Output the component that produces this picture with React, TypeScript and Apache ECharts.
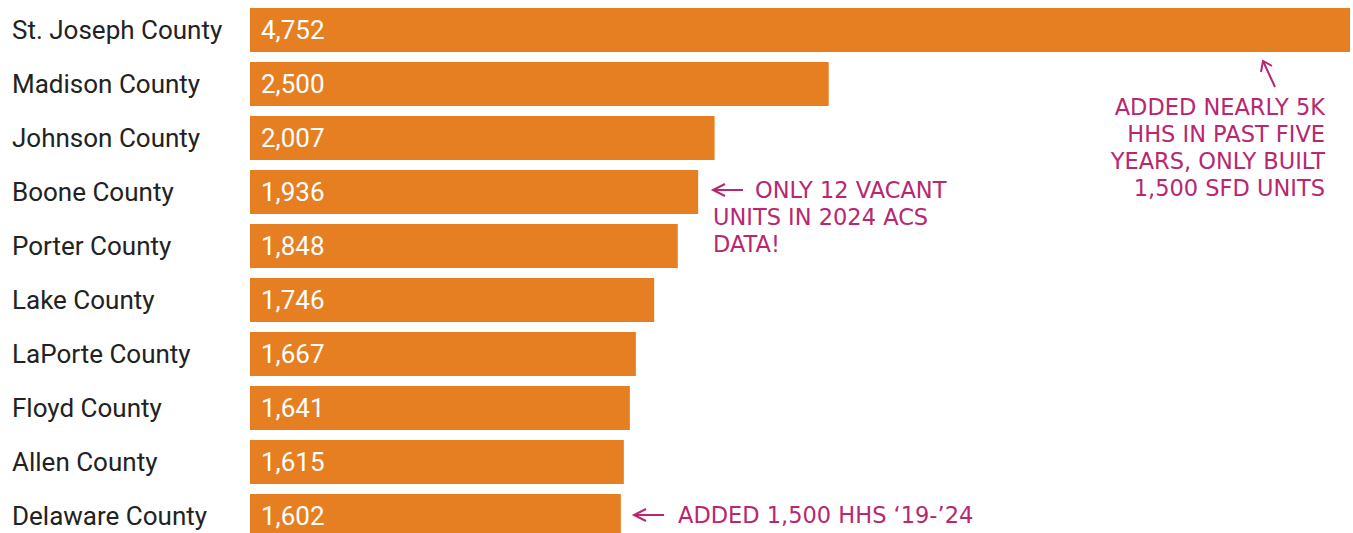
import React, { useEffect, useRef } from "react";
import * as echarts from "echarts";

const counties = [
  "St. Joseph County",
  "Madison County",
  "Johnson County",
  "Boone County",
  "Porter County",
  "Lake County",
  "LaPorte County",
  "Floyd County",
  "Allen County",
  "Delaware County",
];
const values = [4752, 2500, 2007, 1936, 1848, 1746, 1667, 1641, 1615, 1602];

const noteTop = ["ADDED NEARLY 5K", "HHS IN PAST FIVE", "YEARS, ONLY BUILT", "1,500 SFD UNITS"];
const noteMid = ["ONLY 12 VACANT", "UNITS IN 2024 ACS", "DATA!"];
const noteBottom = "ADDED 1,500 HHS ‘19-’24";

const ORANGE = "#E67E22";
const MAGENTA = "#B8276F";
const NOTE_FONT = "'DejaVu Sans', sans-serif";

export default function App() {
  const ref = useRef<HTMLDivElement>(null);
  useEffect(() => {
    document.body.style.overflow = "hidden";
    const chart = echarts.init(ref.current!, null, { renderer: "svg" });
    const noteStyle = (text: string, align: string) => ({
      text,
      fill: MAGENTA,
      font: `22.5px ${NOTE_FONT}`,
      textAlign: align,
      textVerticalAlign: "middle",
    });
    const arrowLeft = (x: number, y: number) => [
      { type: "line", shape: { x1: x + 2, y1: y, x2: x + 30, y2: y }, style: { stroke: MAGENTA, lineWidth: 2 } },
      {
        type: "polyline",
        shape: { points: [[x + 12, y - 6], [x, y], [x + 12, y + 6]] },
        style: { stroke: MAGENTA, lineWidth: 2, fill: "none" },
      },
    ];
    chart.setOption({
      animation: false,
      grid: { left: 250, right: 3, top: 3, height: 540, containLabel: false },
      xAxis: { type: "value", min: 0, max: 4752, show: false },
      yAxis: {
        type: "category",
        data: counties,
        inverse: true,
        axisLine: { show: false },
        axisTick: { show: false },
        axisLabel: {
          align: "left",
          margin: 238,
          fontSize: 26,
          fontFamily: "Roboto",
          color: "#222222",
        },
      },
      series: [
        {
          type: "bar",
          data: values,
          barWidth: 44,
          itemStyle: { color: ORANGE },
          label: {
            show: true,
            position: "insideLeft",
            distance: 11,
            color: "#ffffff",
            fontSize: 26,
            fontFamily: "Roboto",
            formatter: (p: any) => Number(p.value).toLocaleString("en-US"),
          },
        },
      ],
      graphic: [
        // top-right note
        {
          type: "polyline",
          shape: { points: [[1275, 87], [1263, 61]] },
          style: { stroke: MAGENTA, lineWidth: 2, fill: "none" },
        },
        {
          type: "polyline",
          shape: { points: [[1261, 72], [1263, 61], [1272, 66]] },
          style: { stroke: MAGENTA, lineWidth: 2, fill: "none" },
        },
        ...noteTop.map((t, i) => ({
          type: "text",
          x: 1325,
          y: 107 + i * 27,
          style: noteStyle(t, "right"),
        })),
        // middle note
        ...arrowLeft(713, 190),
        { type: "text", x: 755, y: 190, style: noteStyle(noteMid[0], "left") },
        { type: "text", x: 713, y: 217, style: noteStyle(noteMid[1], "left") },
        { type: "text", x: 713, y: 244, style: noteStyle(noteMid[2], "left") },
        // bottom note
        ...arrowLeft(634, 515),
        { type: "text", x: 678, y: 515, style: noteStyle(noteBottom, "left") },
      ],
    });
    return () => chart.dispose();
  }, []);
  return (
    <div
      ref={ref}
      style={{ position: "fixed", left: 0, top: 0, width: 1353, height: 560, background: "#ffffff" }}
    />
  );
}
